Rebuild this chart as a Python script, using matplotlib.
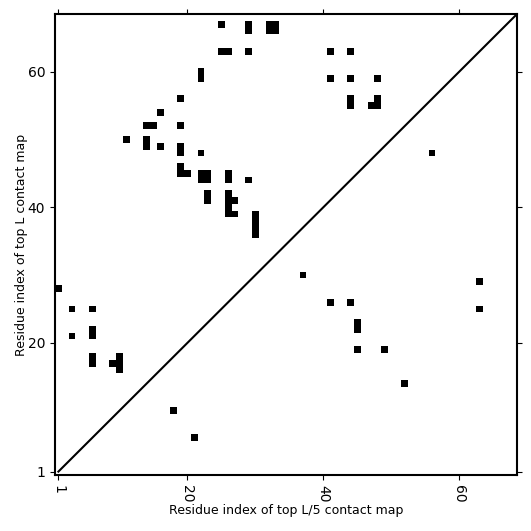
#!/usr/bin/env python

import numpy as np
import matplotlib
matplotlib.use('Agg')
import matplotlib.pyplot as plt

L = 68  # sequence length

# contacts above the diagonal (top L map), residue indices start at 0
upper_x = [24, 28, 28, 31, 32, 31, 32,
           24, 25, 28,
           21, 21,
           18, 15,
           13, 14, 18,
           10, 13, 13, 15, 18, 18, 21,
           18, 18, 19,
           21, 22, 21, 22,
           25, 25, 28,
           22, 22,
           25, 25, 25, 25, 26, 26,
           29, 29, 29, 29,
           40, 43, 40, 43, 47,
           43, 43, 46, 47, 47,
           0, 2, 5, 2, 5, 5, 5, 5, 8, 9, 9, 9]
upper_y = [66, 66, 65, 66, 66, 65, 65,
           62, 62, 62,
           59, 58,
           55, 53,
           51, 51, 51,
           49, 49, 48, 48, 48, 47, 47,
           45, 44, 44,
           44, 44, 43, 43,
           44, 43, 43,
           41, 40,
           41, 40, 39, 38, 40, 38,
           38, 37, 36, 35,
           62, 62, 58, 58, 58,
           55, 54, 54, 55, 54,
           27, 24, 24, 20, 21, 20, 17, 16, 16, 17, 16, 15]

# contacts below the diagonal (top L/5 map)
lower_x = [55, 17, 20, 36, 62, 62, 40, 43, 44, 44, 44, 48, 51]
lower_y = [47, 9, 5, 29, 28, 24, 25, 25, 22, 21, 18, 18, 13]

tick_pos = [0, 19, 39, 59]
tick_labels = ['1', '20', '40', '60']

cmap_grid = np.zeros((L, L))
for x, y in zip(upper_x + lower_x, upper_y + lower_y):
    cmap_grid[y, x] = 1

fig = plt.figure(figsize=(5.31, 5.31), dpi=100)
ax = fig.add_axes([0.1036, 0.1055, 0.870, 0.868])

ax.imshow(cmap_grid, cmap='binary', origin='lower', interpolation='nearest',
          vmin=0, vmax=1, aspect='auto')
ax.plot([0, L], [0, L], color='black', linewidth=1.5)
ax.set_xlim(-0.5, L - 0.5)
ax.set_ylim(-0.5, L - 0.5)

ax.set_xticks(tick_pos)
ax.set_xticklabels(tick_labels, rotation=270)
ax.set_yticks(tick_pos)
ax.set_yticklabels(tick_labels)
ax.tick_params(direction='out', top=True, right=True, labelsize=10)

for spine in ax.spines.values():
    spine.set_linewidth(1.5)

ax.set_xlabel('Residue index of top L/5 contact map', fontsize=9, labelpad=1)
ax.set_ylabel('Residue index of top L contact map', fontsize=9, labelpad=0)

fig.savefig('out.png', dpi=100)
